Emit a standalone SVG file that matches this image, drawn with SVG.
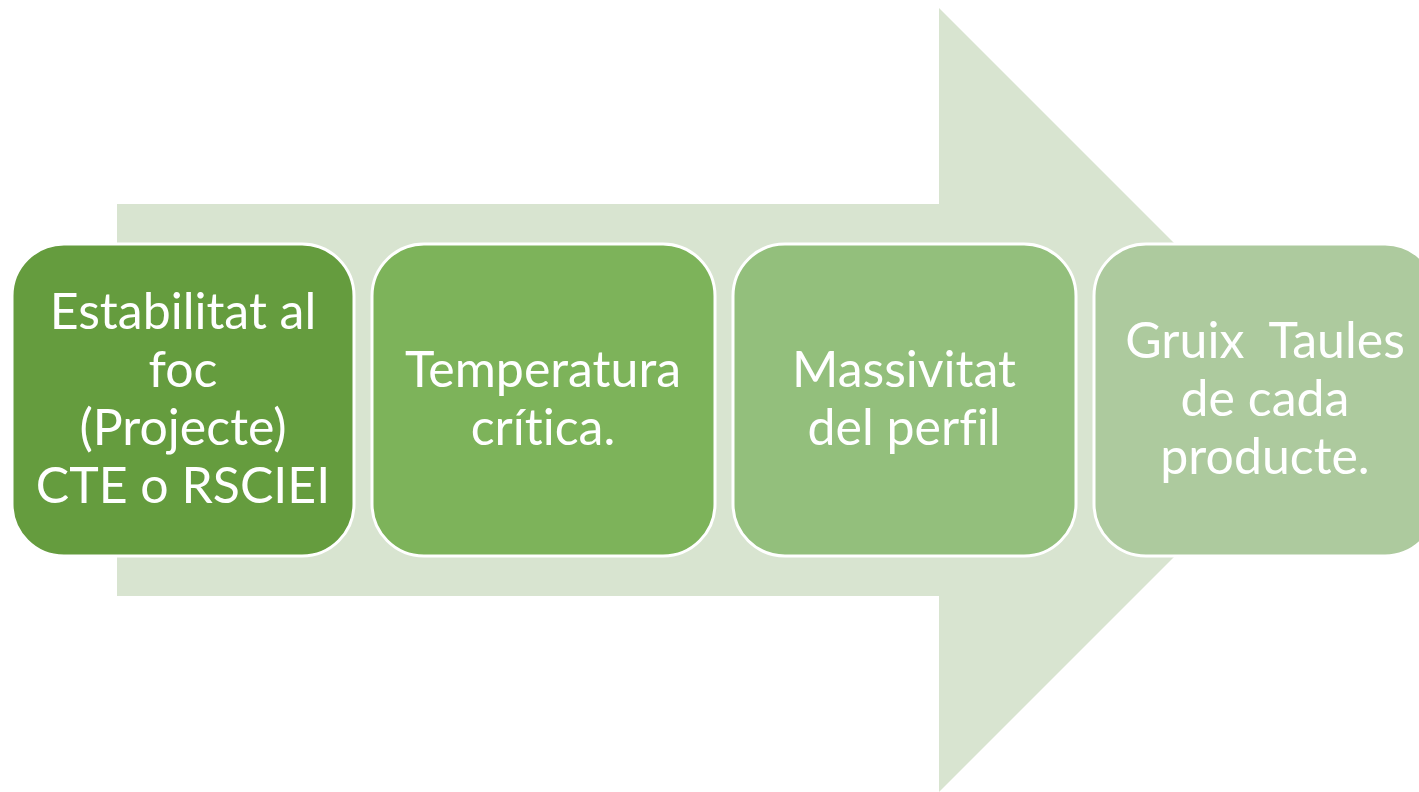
<svg xmlns="http://www.w3.org/2000/svg" width="1419" height="792" viewBox="0 0 1419 792">
<style>
.box{stroke:#ffffff;stroke-width:3}
.t{font-family:Lato,"Open Sans","Liberation Sans",sans-serif;font-size:50px;fill:#ffffff;text-anchor:middle;font-variant-ligatures:none;font-feature-settings:"liga" 0}
</style>
<rect width="1419" height="792" fill="#ffffff"/>
<g id="arrow">
<polygon points="117,204 939,204 939,8 1331,400 939,792 939,596 117,596" fill="#d8e4d0"/>
</g>
<g id="node1">
<rect class="box" x="12" y="244" width="342" height="312" rx="52" fill="#659c3e"/>
<text class="t" x="183" y="329">Estabilitat al</text>
<text class="t" x="183" y="387">foc</text>
<text class="t" x="183" y="445">(Projecte)</text>
<text class="t" x="183" y="503">CTE o RSCIEI</text>
</g>
<g id="node2">
<rect class="box" x="372" y="244" width="343" height="312" rx="52" fill="#7db35a"/>
<text class="t" x="543" y="387">Temperatura</text>
<text class="t" x="543" y="445">crítica.</text>
</g>
<g id="node3">
<rect class="box" x="733" y="244" width="343" height="312" rx="52" fill="#93bf7c"/>
<text class="t" x="904" y="387">Massivitat</text>
<text class="t" x="904" y="445">del perfil</text>
</g>
<g id="node4">
<rect class="box" x="1094" y="244" width="343" height="312" rx="52" fill="#adca9e"/>
<text class="t" x="1265" y="358" xml:space="preserve">Gruix  Taules</text>
<text class="t" x="1265" y="416">de cada</text>
<text class="t" x="1265" y="474">producte.</text>
</g>
<g id="connectors"/>
</svg>
